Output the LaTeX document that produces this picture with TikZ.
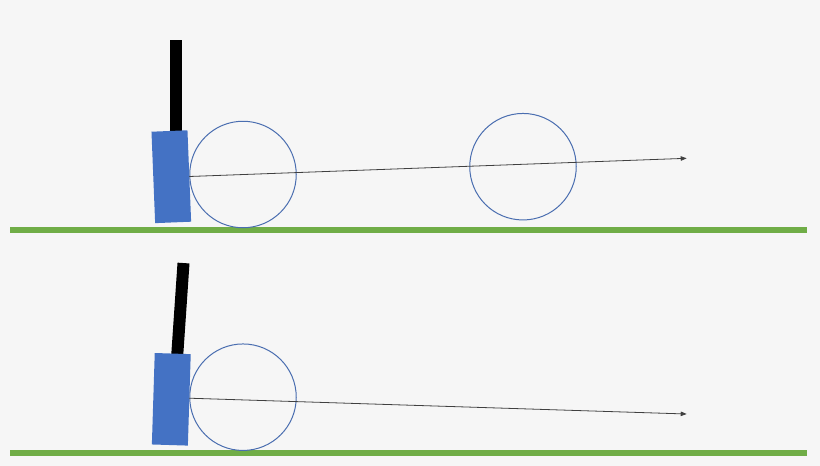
\documentclass[tikz,border=0pt]{standalone}
\usepackage[usenames,dvipsnames]{xcolor}
\usepackage{tikz}
\usetikzlibrary{arrows.meta,shapes,positioning}

\definecolor{paper}{HTML}{F6F6F6}
\definecolor{clubblue}{HTML}{4472C4}
\definecolor{ringblue}{HTML}{4A6EB0}
\definecolor{turf}{HTML}{70AD47}

\tikzset{
  club/.style={fill=clubblue, inner sep=0pt, minimum width=36pt, minimum height=91.5pt},
  shaft/.style={fill=black, inner sep=0pt, minimum width=12pt, minimum height=91.5pt},
  ball/.style={circle, draw=ringblue, line width=1pt, inner sep=0pt, minimum size=106.5pt},
  shot/.style={draw=black!75, line width=0.8pt, -{Triangle[length=6pt,width=4.5pt]}},
  ground/.style={draw=turf, line width=6pt}
}

\begin{document}
\begin{tikzpicture}[x=1pt,y=-1pt]
\useasboundingbox[fill=paper] (0,0) rectangle (820,466);

% upper swing
\draw[ground] (10,230.3)--(806.7,230.3);
\node (shaftA) at (175.5,86) [shaft] {};
\node (clubA) at (171.3,176.7) [club, rotate=2.3] {};
\node (ballA) at (243,174.5) [ball] {};
\node (ballB) at (523,166.7) [ball] {};
\coordinate (endA) at (686.7,158.3);
\draw[shot] ([yshift=-2pt]ballA.west)--(endA);

% lower swing
\draw[ground] (10,453)--(806.7,453);
\node (shaftC) at (180.4,308.7) [shaft, rotate=-3.9] {};
\node (clubC) at (171.3,399.3) [club, rotate=-1.8] {};
\node (ballC) at (243,397.2) [ball] {};
\coordinate (endC) at (686.7,414);
\draw[shot] ([yshift=-1pt]ballC.west)--(endC);

\end{tikzpicture}
\end{document}
